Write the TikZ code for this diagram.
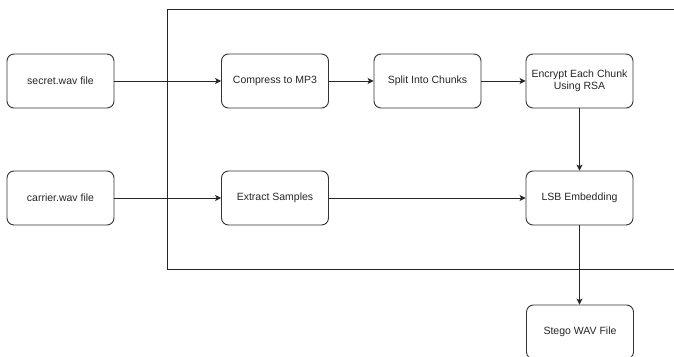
\documentclass[tikz,border=0pt]{standalone}
\usepackage{fontspec}
\setmainfont{Liberation Sans}
\usetikzlibrary{arrows.meta}
\begin{document}
\begin{tikzpicture}[x=1pt,y=-1pt,
  box/.style={draw=black!80, line width=0.9pt, rounded corners=7pt,
    minimum width=107pt, minimum height=54pt, inner sep=0pt,
    align=center, font=\fontsize{10.5}{12.5}\selectfont, text=black!85},
  flow/.style={draw=black!85, line width=0.9pt,
    -{Stealth[length=6pt,width=6pt,inset=1.5pt]}}]
\useasboundingbox (0,0) rectangle (674,356);
\clip (0,0) rectangle (674,356);
% outer frame, running past the right edge
\draw[black!85, line width=0.9pt] (680,9) -- (167,9) -- (167,269) -- (680,269);
% inputs
\node[box] (secret)  at (60.5,81)  {secret.wav file};
\node[box] (carrier) at (60.5,198) {carrier.wav file};
% processing steps
\node[box] (compress) at (275,81)    {Compress to MP3};
\node[box] (split)    at (427.5,81)  {Split Into Chunks};
\node[box] (encrypt)  at (579.5,81)  {Encrypt Each Chunk\\Using RSA};
\node[box] (extract)  at (275,198)   {Extract Samples};
\node[box] (lsb)      at (579.5,198) {LSB Embedding};
% output
\node[box] (stego)    at (580,332)   {Stego WAV File};
% connectors
\draw[flow] (secret) -- (compress);
\draw[flow] (compress) -- (split);
\draw[flow] (split) -- (encrypt);
\draw[flow] (encrypt) -- (lsb);
\draw[flow] (carrier) -- (extract);
\draw[flow] (extract) -- (lsb);
\draw[flow] (lsb.south) -- (lsb.south |- stego.north);
\end{tikzpicture}
\end{document}
